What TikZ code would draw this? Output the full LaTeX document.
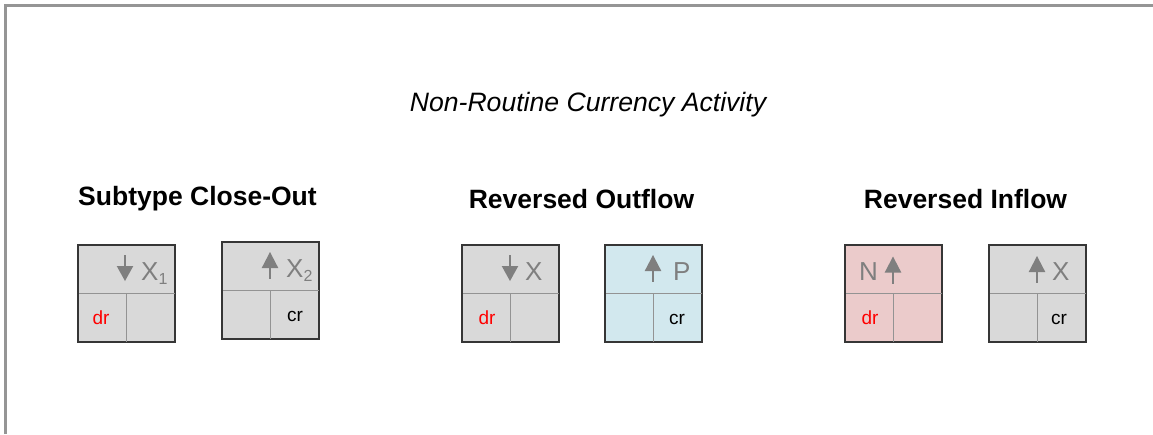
\documentclass[tikz,border=0pt]{standalone}
\usepackage{fontspec}
\setmainfont{Liberation Sans}
\definecolor{boxgray}{HTML}{D9D9D9}
\definecolor{boxblue}{HTML}{D2E8EE}
\definecolor{boxpink}{HTML}{EBCBCB}
\definecolor{txtgray}{HTML}{7F7F7F}
\definecolor{framegray}{HTML}{959595}
\definecolor{divgray}{HTML}{939393}
\definecolor{bordergray}{HTML}{363636}
\begin{document}
\begin{tikzpicture}[x=1pt,y=-1pt,
  acct/.style={draw=bordergray, line width=1.1pt, minimum width=96pt, minimum height=96pt, inner sep=0pt, anchor=north west},
  divider/.style={draw=divgray, line width=1pt},
  frameline/.style={draw=framegray, line width=3pt},
  headtxt/.style={font=\fontsize{26.5}{30}\selectfont\bfseries, anchor=base},
  toptxt/.style={font=\fontsize{26.6}{30}\selectfont\itshape, anchor=base},
  acctname/.style={font=\fontsize{26}{28}\selectfont, text=txtgray, anchor=base west, inner sep=0pt},
  drtxt/.style={font=\fontsize{19}{21}\selectfont, text=red, anchor=base, inner sep=0pt},
  crtxt/.style={font=\fontsize{19}{21}\selectfont, text=black, anchor=base, inner sep=0pt},
  uparr/.pic={\fill[txtgray] (0,0) -- (8.3,16) -- (-8.3,16) -- cycle;
              \draw[txtgray, line width=2.6pt] (0,15) -- (0,27);},
  dnarr/.pic={\fill[txtgray] (0,26) -- (8.3,11) -- (-8.3,11) -- cycle;
              \draw[txtgray, line width=2.6pt] (0,0) -- (0,12);}
]
\useasboundingbox (0,0) rectangle (1153,434);
% frame
\coordinate (ftl) at (5.5,5.5);
\coordinate (ftr) at (1153,5.5);
\coordinate (fbl) at (5.5,434);
\draw[frameline] (fbl) -- (ftl) -- (ftr);
% title
\node[toptxt] (title) at (588,111) {Non-Routine Currency Activity};
% headings
\node[headtxt] (h1) at (197.5,205) {Subtype Close-Out};
\node[headtxt] (h2) at (581.5,208) {Reversed Outflow};
\node[headtxt] (h3) at (965.5,208) {Reversed Inflow};
% boxes
\node[acct, fill=boxgray] (b1) at (78,245) {};
\node[acct, fill=boxgray] (b2) at (222,242) {};
\node[acct, fill=boxgray] (b3) at (462,245) {};
\node[acct, fill=boxblue] (b4) at (605,245) {};
\node[acct, fill=boxpink] (b5) at (845,245) {};
\node[acct, fill=boxgray] (b6) at (989,245) {};
\foreach \b in {b1,b2,b3,b4,b5,b6}{
  \draw[divider] (\b.west) -- (\b.east);
  \draw[divider] (\b.center) -- (\b.south);
  \draw[draw=bordergray, line width=1.1pt] (\b.north west) rectangle (\b.south east);
}
% arrows
\pic (a1) at (125,255) {dnarr};
\pic (a2) at (270,252) {uparr};
\pic (a3) at (510,255) {dnarr};
\pic (a4) at (653,255) {uparr};
\pic (a5) at (893,256.5) {uparr};
\pic (a6) at (1037,256) {uparr};
% account names
\node[acctname] (n1) at (141,280.5) {X\raisebox{-4pt}{\fontsize{16}{16}\selectfont 1}};
\node[acctname] (n2) at (286,277.5) {X\raisebox{-4pt}{\fontsize{16}{16}\selectfont 2}};
\node[acctname] (n3) at (525,280.5) {X};
\node[acctname] (n4) at (673,280.5) {P};
\node[acctname] (n5) at (859,280.5) {N};
\node[acctname] (n6) at (1052,280.5) {X};
% dr / cr
\node[drtxt] (d1) at (101,324) {dr};
\node[crtxt] (c2) at (295,321.5) {cr};
\node[drtxt] (d3) at (487,324) {dr};
\node[crtxt] (c4) at (677,324) {cr};
\node[drtxt] (d5) at (870,324) {dr};
\node[crtxt] (c6) at (1059,324) {cr};
\end{tikzpicture}
\end{document}
